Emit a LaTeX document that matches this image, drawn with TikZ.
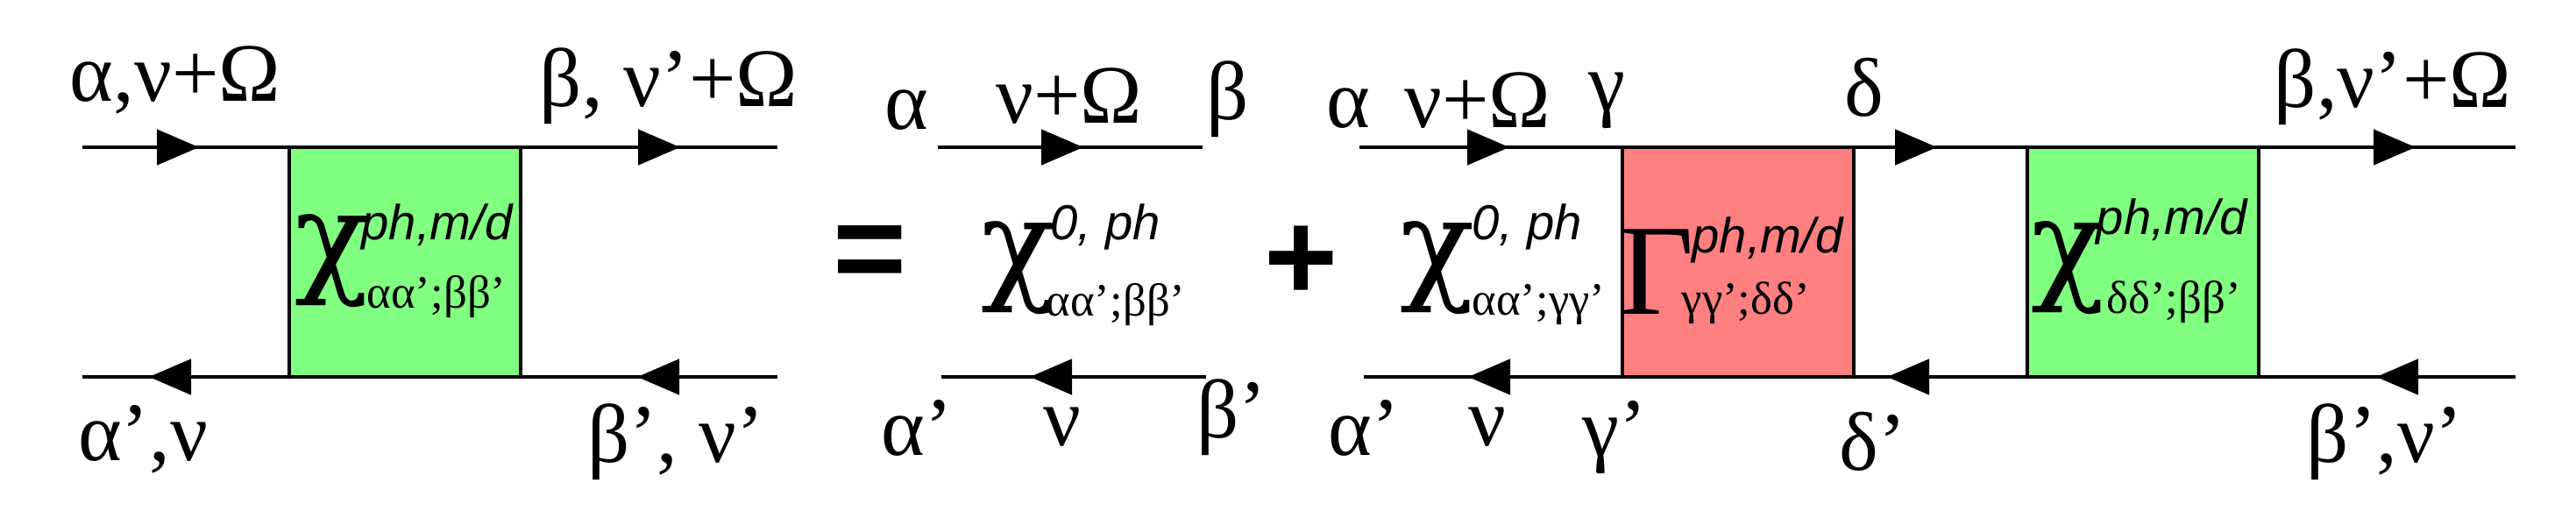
\documentclass[tikz,border=0pt]{standalone}
\usepackage{fontspec}
\setmainfont{Liberation Serif}
\newfontfamily\supfont{Liberation Sans}
\newfontfamily\chifont{DejaVu Serif}
\usepackage{tikz}
\usetikzlibrary{arrows.meta}
\usetikzlibrary{decorations.markings}

\definecolor{chigreen}{RGB}{128,255,128}
\definecolor{gamred}{RGB}{255,128,128}

\tikzset{
  prop/.style={line width=1.3pt},
  tipat/.style={postaction={decorate,decoration={markings,mark=at position #1 with {\arrow{Triangle[length=4.8mm,width=4mm]}}}}},
  vertex/.style={draw, line width=1pt, minimum width=2.64cm, minimum height=2.62cm, inner sep=0pt},
  lbl/.style={inner sep=0pt, anchor=base, font=\fontsize{27}{27}\selectfont},
  bigsym/.style={inner sep=0pt, anchor=base west, font=\fontsize{42}{42}\selectfont},
  chisym/.style={inner sep=0pt, anchor=base west, font=\chifont\fontsize{40}{40}\selectfont},
  suptxt/.style={inner sep=0pt, anchor=base west, font=\supfont\itshape\fontsize{16}{16}\selectfont},
  subtxt/.style={inner sep=0pt, anchor=base west, font=\fontsize{15}{15}\selectfont},
  opsym/.style={inner sep=0pt, font=\supfont\bfseries\fontsize{41}{41}\selectfont},
}

\begin{document}
\begin{tikzpicture}
                \useasboundingbox (0,0) rectangle (29.39,5.82);

                % Left side: full susceptibility
                \node[vertex, fill=chigreen] (boxL) at (4.62,2.83) {};
                \coordinate (tl1) at (0.94,4.14);
                \coordinate (tr1) at (8.87,4.14);
                \coordinate (bl1) at (0.94,1.52);
                \coordinate (br1) at (8.87,1.52);
                \draw[prop, tipat=1.33cm, tipat=6.82cm] (tl1) -- (tr1);
                \draw[prop, tipat=1.60cm, tipat=7.17cm] (br1) -- (bl1);
                \node[lbl] (aL) at (2.00,4.67) {α,ν+Ω};
                \node[lbl] (bL) at (7.63,4.61) {β, ν’+Ω};
                \node[lbl] (apL) at (1.63,0.57) {α’,ν};
                \node[lbl] (bpL) at (7.71,0.55) {β’, ν’};
                \node[chisym] (chiL) at (3.36,2.63) {χ};
                \node[suptxt] (chiLsup) at (4.12,3.09) {ph,m/d};
                \node[subtxt] (chiLsub) at (4.18,2.31) {αα’;ββ’};

                \node[opsym] (eq) at (9.93,2.87) {=};

                % Bare bubble
                \coordinate (tl2) at (10.70,4.14);
                \coordinate (tr2) at (13.72,4.14);
                \coordinate (bl2) at (10.74,1.52);
                \coordinate (br2) at (13.76,1.52);
                \draw[prop, tipat=1.66cm] (tl2) -- (tr2);
                \draw[prop, tipat=2.01cm] (br2) -- (bl2);
                \node[lbl] (a2) at (10.34,4.35) {α};
                \node[lbl] (w2) at (12.20,4.42) {ν+Ω};
                \node[lbl] (b2) at (14.01,4.46) {β};
                \node[lbl] (ap2) at (10.46,0.63) {α’};
                \node[lbl] (v2) at (12.12,0.74) {ν};
                \node[lbl] (bp2) at (14.05,0.83) {β’};
                \node[chisym] (chi0) at (11.19,2.55) {χ};
                \node[suptxt] (chi0sup) at (11.98,3.09) {0, ph};
                \node[subtxt] (chi0sub) at (11.93,2.22) {αα’;ββ’};

                \node[opsym] (plus) at (14.85,2.82) {+};

                % Ladder: bubble, vertex, susceptibility
                \node[vertex, fill=gamred] (boxG) at (19.83,2.83) {};
                \node[vertex, fill=chigreen] (boxR) at (24.45,2.83) {};
                \coordinate (tl3) at (15.51,4.14);
                \coordinate (tr3) at (28.70,4.14);
                \coordinate (bl3) at (15.56,1.52);
                \coordinate (br3) at (28.70,1.52);
                \draw[prop, tipat=1.71cm, tipat=6.59cm, tipat=12.05cm] (tl3) -- (tr3);
                \draw[prop, tipat=1.59cm, tipat=7.17cm, tipat=11.95cm] (br3) -- (bl3);
                \node[lbl] (a3) at (15.38,4.37) {α};
                \node[lbl] (w3) at (16.86,4.37) {ν+Ω};
                \node[lbl] (c3) at (18.33,4.56) {γ};
                \node[lbl] (d3) at (21.27,4.50) {δ};
                \node[lbl] (bR) at (27.30,4.60) {β,ν’+Ω};
                \node[lbl] (ap3) at (15.56,0.63) {α’};
                \node[lbl] (v3) at (16.97,0.74) {ν};
                \node[lbl] (cp3) at (18.42,0.62) {γ’};
                \node[lbl] (dp3) at (21.37,0.46) {δ’};
                \node[lbl] (bpR) at (27.21,0.55) {β’,ν’};
                \node[chisym] (chi0b) at (15.97,2.55) {χ};
                \node[suptxt] (chi0bsup) at (16.79,3.09) {0, ph};
                \node[subtxt] (chi0bsub) at (16.79,2.23) {αα’;γγ’};
                \node[bigsym] (gam) at (18.47,2.24) {Γ};
                \node[suptxt] (gamsup) at (19.30,2.94) {ph,m/d};
                \node[subtxt] (gamsub) at (19.18,2.24) {γγ’;δδ’};
                \node[chisym] (chiR) at (23.17,2.55) {χ};
                \node[suptxt] (chiRsup) at (23.91,3.15) {ph,m/d};
                \node[subtxt] (chiRsub) at (24.03,2.25) {δδ’;ββ’};
\end{tikzpicture}
\end{document}
